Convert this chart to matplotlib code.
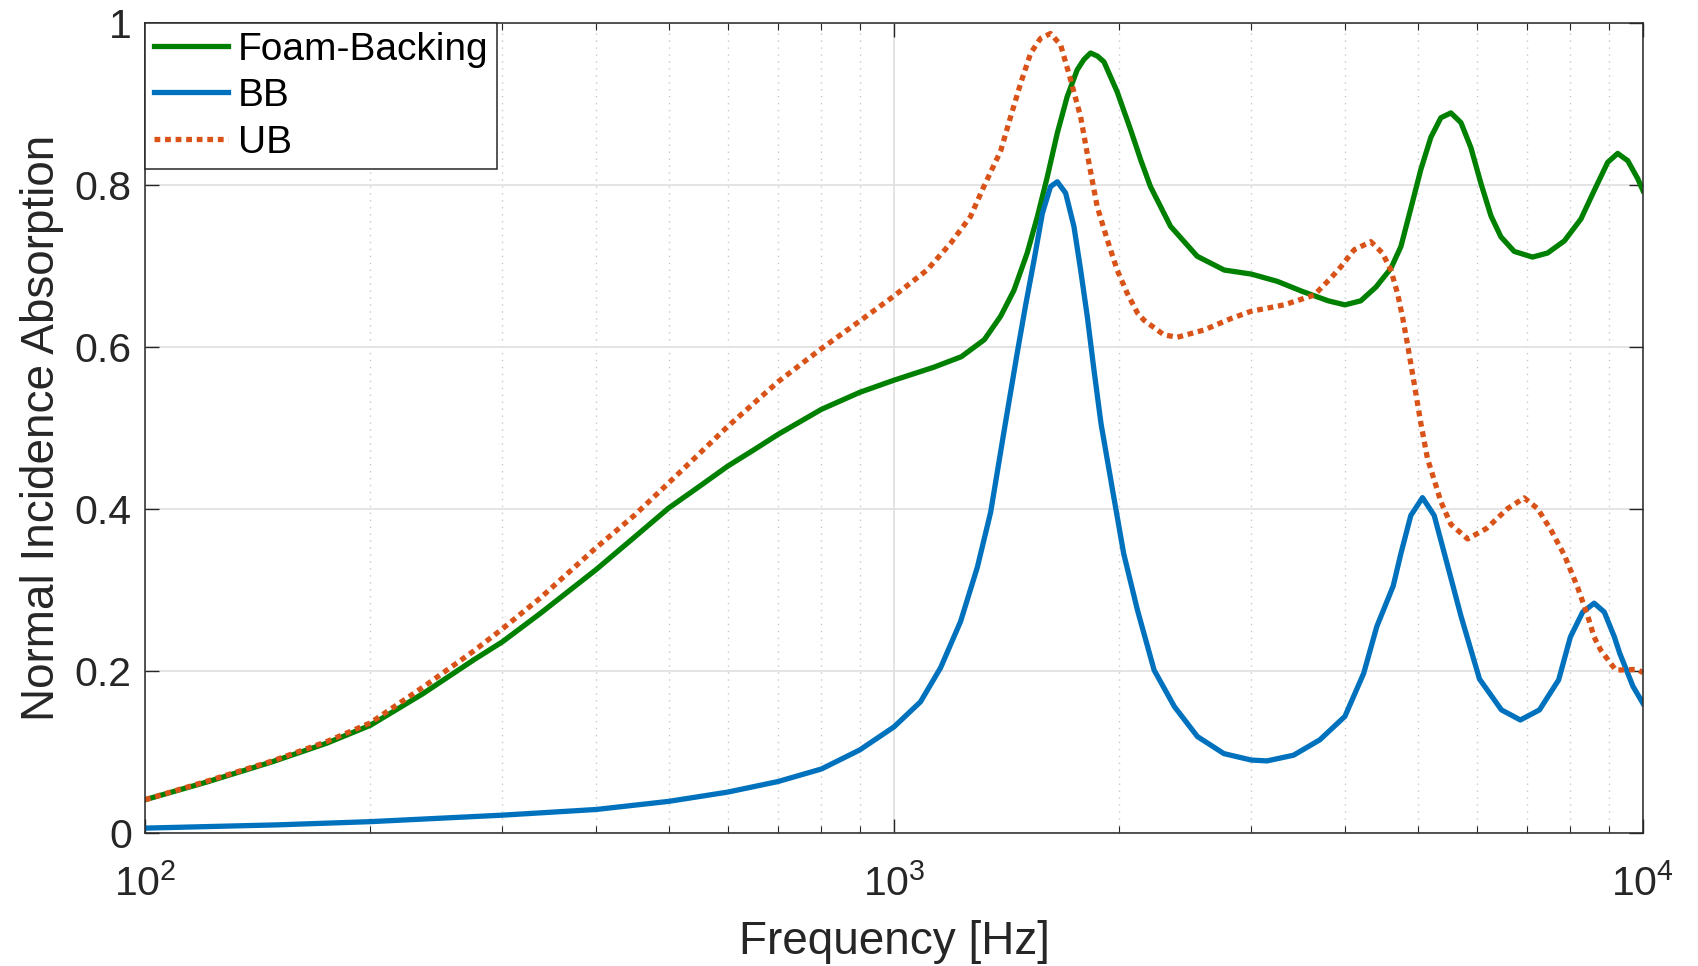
import numpy as np
import matplotlib
matplotlib.use("Agg")
import matplotlib.pyplot as plt
from matplotlib.ticker import FixedLocator, LogLocator, NullFormatter

plt.rcParams['font.family'] = ['Liberation Sans', 'DejaVu Sans']
plt.rcParams['mathtext.fontset'] = 'custom'
plt.rcParams['mathtext.rm'] = 'Liberation Sans'
plt.rcParams['mathtext.it'] = 'Liberation Sans'

# measured absorption curves
freq_foam = [100, 121, 148, 175, 200, 235, 275, 300, 337, 400, 450, 500, 550, 600, 650,
             700, 800, 900, 1000, 1130, 1230, 1320, 1388, 1446, 1506, 1554, 1602, 1652,
             1703, 1756, 1793, 1830, 1870, 1907, 1986, 2070, 2135, 2200, 2340, 2540, 2760,
             3000, 3250, 3500, 3800, 4000, 4200, 4400, 4607, 4751, 4898, 5051, 5210, 5372,
             5540, 5714, 5892, 6076, 6266, 6461, 6731, 7120, 7458, 7853, 8263, 8606, 8972,
             9252, 9542, 9838, 10000]
abs_foam = [0.041, 0.063, 0.088, 0.111, 0.133, 0.172, 0.214, 0.236, 0.271, 0.325, 0.365,
            0.401, 0.428, 0.453, 0.473, 0.492, 0.523, 0.544, 0.559, 0.575, 0.588, 0.609,
            0.638, 0.670, 0.716, 0.761, 0.810, 0.864, 0.909, 0.942, 0.955, 0.963, 0.959,
            0.952, 0.915, 0.868, 0.831, 0.798, 0.749, 0.712, 0.695, 0.690, 0.681, 0.669,
            0.657, 0.652, 0.657, 0.674, 0.697, 0.724, 0.771, 0.819, 0.859, 0.883, 0.889,
            0.877, 0.846, 0.802, 0.762, 0.736, 0.718, 0.711, 0.716, 0.731, 0.758, 0.793,
            0.828, 0.839, 0.830, 0.808, 0.793]

freq_bb = [100, 150, 200, 300, 400, 500, 600, 700, 800, 900, 1000, 1085, 1154, 1227,
           1292, 1346, 1402, 1462, 1499, 1538, 1578, 1618, 1652, 1695, 1739, 1775, 1812,
           1849, 1890, 1978, 2026, 2114, 2225, 2368, 2542, 2757, 3000, 3148, 3415, 3703,
           4000, 4237, 4412, 4640, 4751, 4898, 5077, 5263, 5485, 5714, 6050, 6471, 6860,
           7275, 7716, 8000, 8307, 8606, 8879, 9158, 9309, 9697, 10000]
abs_bb = [0.006, 0.010, 0.014, 0.022, 0.029, 0.039, 0.0505, 0.0635, 0.079, 0.1025, 0.131,
          0.162, 0.204, 0.261, 0.328, 0.396, 0.495, 0.595, 0.652, 0.707, 0.765, 0.798,
          0.804, 0.790, 0.7485, 0.695, 0.637, 0.572, 0.505, 0.400, 0.345, 0.275, 0.201,
          0.156, 0.119, 0.098, 0.090, 0.089, 0.096, 0.115, 0.144, 0.197, 0.255, 0.305,
          0.345, 0.392, 0.414, 0.392, 0.330, 0.268, 0.190, 0.152, 0.1395, 0.152, 0.189,
          0.242, 0.2727, 0.2837, 0.2727, 0.242, 0.222, 0.181, 0.160]

freq_ub = [100, 121, 148, 175, 200, 235, 275, 300, 337, 400, 450, 500, 600, 700, 800, 900,
           1000, 1107, 1190, 1265, 1318, 1388, 1431, 1476, 1522, 1569, 1618, 1669, 1721,
           1775, 1821, 1868, 1927, 1986, 2049, 2114, 2157, 2293, 2389, 2594, 2816, 2995,
           3317, 3638, 3830, 3950, 4115, 4332, 4489, 4607, 4702, 4775, 4849, 4949, 5051,
           5156, 5263, 5372, 5540, 5833, 6182, 6596, 6940, 7232, 7536, 7853, 8177, 8436,
           8606, 8778, 9199, 9811, 10000]
abs_ub = [0.041, 0.064, 0.089, 0.113, 0.136, 0.180, 0.225, 0.252, 0.290, 0.352, 0.392,
          0.432, 0.502, 0.557, 0.598, 0.632, 0.663, 0.695, 0.728, 0.761, 0.798, 0.842,
          0.884, 0.9255, 0.9626, 0.981, 0.987, 0.973, 0.930, 0.884, 0.827, 0.773, 0.732,
          0.695, 0.666, 0.642, 0.633, 0.615, 0.612, 0.621, 0.635, 0.644, 0.652, 0.664,
          0.685, 0.699, 0.720, 0.730, 0.716, 0.695, 0.666, 0.637, 0.603, 0.555, 0.506,
          0.462, 0.436, 0.409, 0.381, 0.363, 0.376, 0.4005, 0.4137, 0.4005, 0.374, 0.343,
          0.3036, 0.268, 0.242, 0.226, 0.201, 0.202, 0.198]

y_ticks = [0, 0.2, 0.4, 0.6, 0.8, 1]
y_ticklabels = ['0', '0.2', '0.4', '0.6', '0.8', '1']

fig = plt.figure(figsize=(16.98, 9.66), dpi=100)
ax = fig.add_axes([0.0854, 0.1377, 0.8822, 0.8385])

ax.plot(freq_foam, abs_foam, color='#008000', lw=3.8, label='Foam-Backing')
ax.plot(freq_bb, abs_bb, color='#0072BD', lw=3.8, label='BB')
ax.plot(freq_ub, abs_ub, color='#D95319', lw=3.8, linestyle=(0, (1.1, 0.9)), label='UB')

ax.set_xscale('log')
ax.set_xlim(100, 10000)
ax.set_ylim(0, 1)
ax.yaxis.set_major_locator(FixedLocator(y_ticks))
ax.set_yticklabels(y_ticklabels)
ax.xaxis.set_minor_locator(LogLocator(base=10, subs=np.arange(2, 10)))
ax.xaxis.set_minor_formatter(NullFormatter())

ax.grid(True, which='major', color='#dfdfdf', lw=1.2)
ax.grid(True, which='minor', axis='x', color='#c8c8c8', lw=1.0, linestyle=(0, (1, 4)))
ax.set_axisbelow(True)

ax.tick_params(which='both', direction='in', top=True, right=True, colors='#262626',
               labelsize=29.5)
ax.tick_params(which='major', length=10, width=1.0, pad=9.5)
ax.tick_params(which='minor', length=5, width=0.8)
ax.tick_params(axis='x', which='major', pad=22)
for s in ax.spines.values():
    s.set_color('#262626')
    s.set_linewidth(1.1)

ax.set_xlabel('Frequency [Hz]', fontsize=33, color='#262626', labelpad=12)
ax.set_ylabel('Normal Incidence Absorption', fontsize=33, color='#262626', labelpad=8)

leg = ax.legend(loc='upper left', bbox_to_anchor=(0, 1), borderaxespad=0, fontsize=28,
                fancybox=False, framealpha=1, edgecolor='#262626', handlelength=1.92,
                handletextpad=0.25, labelspacing=0.27, borderpad=0.22)
leg.get_frame().set_linewidth(1.1)

fig.savefig('out.png', dpi=100)
